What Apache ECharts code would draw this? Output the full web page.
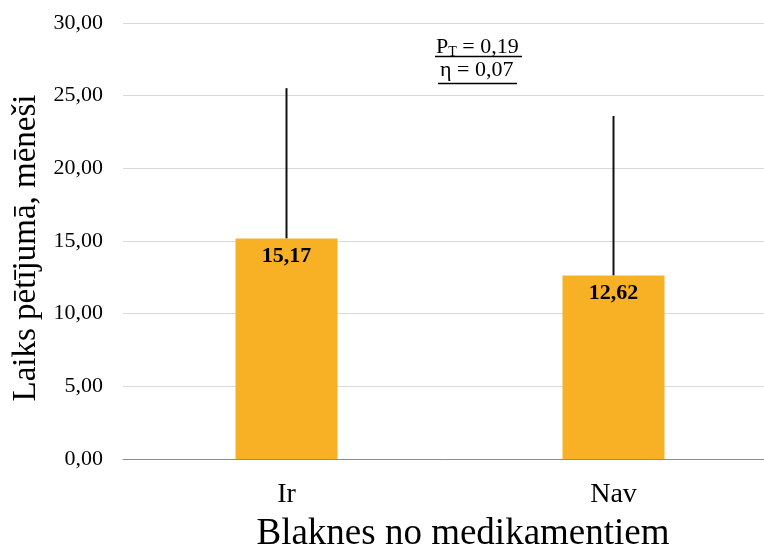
<!DOCTYPE html>
<html>
<head>
    <meta charset="utf-8">
    <title>Blaknes no medikamentiem</title>
    <script src="https://cdn.jsdelivr.net/npm/echarts@6/dist/echarts.min.js"></script>
    <style>
        html, body { margin: 0; padding: 0; background: #fff; }
        #main { width: 764px; height: 549px; }
    </style>
</head>
<body>
<div id="main"></div>
<script>
    // dati
    var categories = ['Ir', 'Nav'];
    var means = [15.17, 12.62];
    var sds = [10.35, 10.98];        // kļūdu joslas augšup
    var yTicks = [0, 5, 10, 15, 20, 25, 30];

    var font = '"Liberation Serif", "DejaVu Serif", serif';

    var myChart = echarts.init(document.getElementById('main'));

    function fmt(v) {
        return v.toFixed(2).replace('.', ',');
    }

    var option = {
        animation: false,
        grid: {
            left: 123,
            top: 23,
            width: 654,
            height: 436,
            outerBoundsMode: 'none',
            containLabel: false
        },
        xAxis: {
            type: 'category',
            data: categories,
            axisLine: { lineStyle: { color: '#8c8c8c', width: 1 } },
            axisTick: { show: false },
            axisLabel: {
                fontFamily: font,
                fontSize: 28,
                color: '#000',
                margin: 22
            },
            name: 'Blaknes no medikamentiem',
            nameLocation: 'middle',
            nameGap: 57,
            nameTextStyle: { fontFamily: font, fontSize: 37, color: '#000', padding: [0, 0, 0, 26] }
        },
        yAxis: {
            type: 'value',
            min: yTicks[0],
            max: yTicks[yTicks.length - 1],
            interval: 5,
            axisLine: { show: false },
            axisTick: { show: false },
            splitLine: { lineStyle: { color: '#d9d9d9', width: 1 } },
            axisLabel: {
                fontFamily: font,
                fontSize: 22,
                color: '#000',
                margin: 20,
                formatter: function (v) { return fmt(v); }
            },
            name: 'Laiks pētījumā, mēneši',
            nameLocation: 'middle',
            nameGap: 79,
            nameTextStyle: { fontFamily: font, fontSize: 33, color: '#000', padding: [0, 14, 0, 0] }
        },
        series: [
            {
                type: 'bar',
                data: means,
                barWidth: 102,
                itemStyle: { color: '#F8B124' },
                label: {
                    show: true,
                    position: 'insideTop',
                    distance: 7,
                    fontFamily: font,
                    fontSize: 22,
                    fontWeight: 'bold',
                    color: '#000',
                    formatter: function (p) { return fmt(p.value); }
                },
                z: 2
            },
            {
                // kļūdu joslas
                type: 'custom',
                data: means.map(function (m, i) { return [i, m, m + sds[i]]; }),
                renderItem: function (params, api) {
                    var p0 = api.coord([api.value(0), api.value(1)]);
                    var p1 = api.coord([api.value(0), api.value(2)]);
                    return {
                        type: 'line',
                        shape: { x1: p0[0], y1: p0[1], x2: p1[0], y2: p1[1] },
                        style: { stroke: '#111', lineWidth: 2 }
                    };
                },
                z: 1
            }
        ],
        graphic: [
            {
                type: 'text',
                left: 436, top: 36,
                style: {
                    text: '{a|P}{s|T}{a| = 0,19}',
                    rich: {
                        a: { fontFamily: font, fontSize: 22, fill: '#000' },
                        s: { fontFamily: font, fontSize: 14, fill: '#000', padding: [10, 0, 0, 0] }
                    }
                }
            },
            {
                type: 'line',
                shape: { x1: 435, y1: 56.5, x2: 522, y2: 56.5 },
                style: { stroke: '#000', lineWidth: 1.5 }
            },
            {
                type: 'text',
                left: 440, top: 59,
                style: {
                    text: 'η = 0,07',
                    fontFamily: font, fontSize: 22, fill: '#000'
                }
            },
            {
                type: 'line',
                shape: { x1: 438, y1: 83.5, x2: 517, y2: 83.5 },
                style: { stroke: '#000', lineWidth: 1.5 }
            }
        ]
    };

    option && myChart.setOption(option);
</script>
</body>
</html>
